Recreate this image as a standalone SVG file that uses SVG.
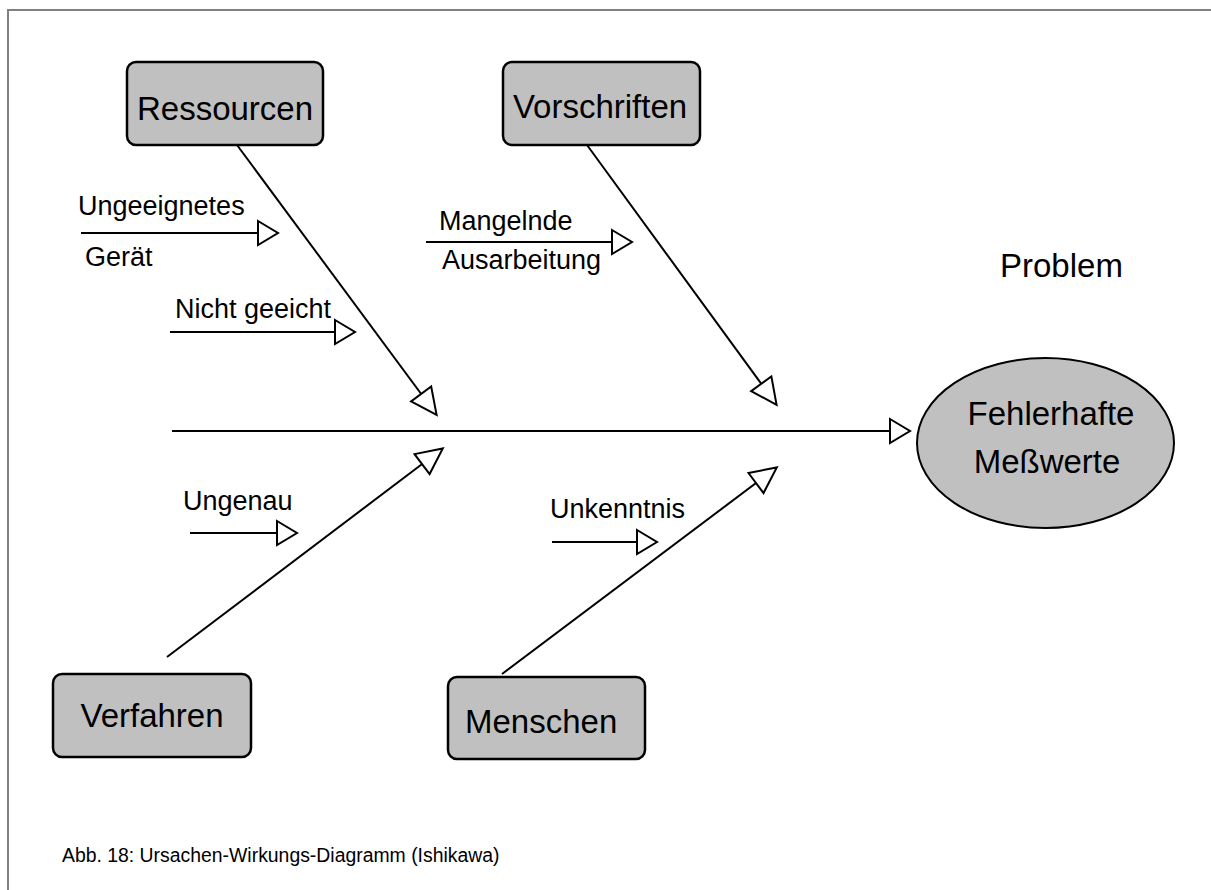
<svg xmlns="http://www.w3.org/2000/svg" width="1211" height="890" viewBox="0 0 1211 890">
  <style>
    .box { fill: #c0c0c0; stroke: #000; stroke-width: 2.5; }
    .big { font-family: "Liberation Sans", Arial, sans-serif; font-size: 33px; fill: #000; }
    .lbl { font-family: "Liberation Sans", Arial, sans-serif; font-size: 27px; fill: #000; }
    .cap { font-family: "Liberation Sans", Arial, sans-serif; font-size: 19.4px; fill: #000; }
    .bone { fill: none; stroke: #000; stroke-width: 2; }
    .small { marker-end: url(#tri); }
    .diag { marker-end: url(#triL); }
  </style>
  <defs>
    <!-- hollow triangular arrowheads -->
    <marker id="tri" viewBox="-3 -3 26 30" refX="19" refY="12" markerWidth="26" markerHeight="30" markerUnits="userSpaceOnUse" orient="auto" style="overflow:visible">
      <path d="M0,0 L20,12 L0,24 Z" fill="#fff" stroke="#000" stroke-width="2"/>
    </marker>
    <marker id="triL" viewBox="-3 -3 30 31" refX="25" refY="12.5" markerWidth="30" markerHeight="31" markerUnits="userSpaceOnUse" orient="auto" style="overflow:visible">
      <path d="M0,0 L26,12.5 L0,25 Z" fill="#fff" stroke="#000" stroke-width="2"/>
    </marker>
  </defs>

  <rect width="1211" height="890" fill="#fff"/>
  <!-- frame -->
  <path d="M8,890 V10 H1211" fill="none" stroke="#808080" stroke-width="2"/>

  <!-- connectors: spine, main bones and sub-causes -->
  <g id="connectors">
    <path class="bone small" d="M172,431 L909,431"/>
    <path class="bone diag" d="M237,145 L436,414"/>
    <path class="bone diag" d="M587,145 L776,404"/>
    <path class="bone diag" d="M167,657 L442,449"/>
    <path class="bone diag" d="M502,674 L776,468"/>
    <path class="bone small" d="M81,233 L277,233"/>
    <path class="bone small" d="M170,332 L354,332"/>
    <path class="bone small" d="M426,242 L631,242"/>
    <path class="bone small" d="M190,533 L296,533"/>
    <path class="bone small" d="M552,542 L656,542"/>
  </g>

  <g id="ressourcen">
    <rect class="box" x="127" y="62" width="196" height="83" rx="9"/>
    <text class="big" x="225" y="120" text-anchor="middle">Ressourcen</text>
  </g>
  <g id="vorschriften">
    <rect class="box" x="503" y="62" width="197" height="83" rx="9"/>
    <text class="big" x="600" y="118" text-anchor="middle">Vorschriften</text>
  </g>
  <g id="verfahren">
    <rect class="box" x="53" y="674" width="198" height="83" rx="9"/>
    <text class="big" x="152" y="727" text-anchor="middle">Verfahren</text>
  </g>
  <g id="menschen">
    <rect class="box" x="448" y="677" width="197" height="82" rx="9"/>
    <text class="big" x="465" y="733">Menschen</text>
  </g>
  <g id="problem">
    <ellipse cx="1045.5" cy="443" rx="128.5" ry="85" fill="#c0c0c0" stroke="#000" stroke-width="2"/>
    <text class="big" x="1051" y="425" text-anchor="middle">Fehlerhafte</text>
    <text class="big" x="1047" y="473" text-anchor="middle">Meßwerte</text>
  </g>

  <g id="labels">
    <text class="big" x="1000" y="277">Problem</text>
    <text class="lbl" x="78" y="215">Ungeeignetes</text>
    <text class="lbl" x="85" y="266">Gerät</text>
    <text class="lbl" x="175" y="318">Nicht geeicht</text>
    <text class="lbl" x="439" y="230">Mangelnde</text>
    <text class="lbl" x="442" y="269">Ausarbeitung</text>
    <text class="lbl" x="183" y="510">Ungenau</text>
    <text class="lbl" x="550" y="518">Unkenntnis</text>
  </g>

  <text id="caption" class="cap" x="62" y="862">Abb. 18: Ursachen-Wirkungs-Diagramm (Ishikawa)</text>
</svg>
